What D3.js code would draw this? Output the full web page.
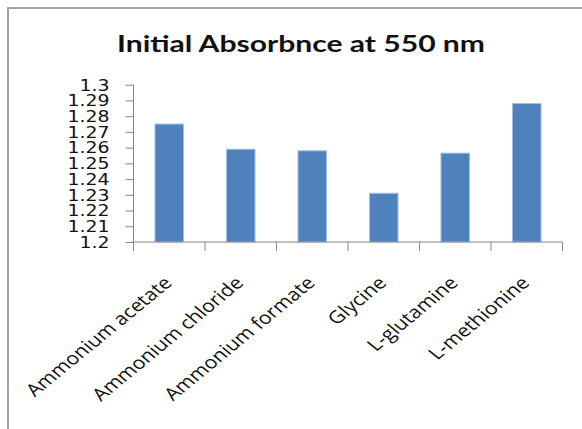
<!DOCTYPE html>
<html>
<head>
<meta charset="utf-8">
<script src="https://cdn.jsdelivr.net/npm/d3@7"></script>
<style>
  html, body { margin: 0; padding: 0; background: #fff; }
  svg { display: block; }
</style>
</head>
<body>
<svg id="chart" width="582" height="429"></svg>
<script>
// Initial absorbance at 550 nm for each additive
const categories = ["Ammonium acetate", "Ammonium chloride", "Ammonium formate", "Glycine", "L-glutamine", "L-methionine"];
const absorbance = [1.275, 1.259, 1.258, 1.231, 1.2565, 1.288];
const yTickValues = [1.2, 1.21, 1.22, 1.23, 1.24, 1.25, 1.26, 1.27, 1.28, 1.29, 1.3];
const yTickLabels = ["1.2", "1.21", "1.22", "1.23", "1.24", "1.25", "1.26", "1.27", "1.28", "1.29", "1.3"];
const titleText = "Initial Absorbnce  at 550 nm";

// Text in this chart is drawn slightly wide
const SX = 1.22;

const svg = d3.select("#chart");

// chart area frame
svg.append("rect")
  .attr("x", 8).attr("y", 8)
  .attr("width", 600).attr("height", 440)
  .attr("fill", "#fff")
  .attr("stroke", "#a3a3a3")
  .attr("stroke-width", 2);

const plot = { left: 133.5, right: 562.5, top: 84.7, bottom: 242 };

const x = d3.scaleBand()
  .domain(categories)
  .range([plot.left, plot.right])
  .paddingInner(0.6)
  .paddingOuter(0.3);

const y = d3.scaleLinear()
  .domain([1.2, 1.3])
  .range([plot.bottom, plot.top]);

// title
svg.append("text")
  .attr("x", 117).attr("y", 51.7)
  .attr("font-family", "Lato, 'Open Sans', sans-serif")
  .attr("font-weight", "bold")
  .attr("font-size", 23)
  .attr("fill", "#111")
  .attr("textLength", 368)
  .attr("lengthAdjust", "spacingAndGlyphs")
  .text(titleText);

// bars
svg.append("g")
  .selectAll("rect")
  .data(categories.map((c, i) => ({ c, v: absorbance[i] })))
  .join("rect")
  .attr("x", d => x(d.c))
  .attr("y", d => y(d.v))
  .attr("width", x.bandwidth())
  .attr("height", d => y(1.2) - y(d.v))
  .attr("fill", "#4f81bd")
  .attr("stroke", "#a9c1e3")
  .attr("stroke-width", 1);

const axisColor = "#868686";

// value axis
const yAxis = d3.axisLeft(y)
  .tickValues(yTickValues)
  .tickFormat((d, i) => yTickLabels[i])
  .tickSizeInner(8)
  .tickSizeOuter(0);

const gy = svg.append("g")
  .attr("transform", `translate(${plot.left},0)`)
  .call(yAxis);
gy.select(".domain").remove();
gy.selectAll(".tick line").attr("stroke", axisColor);
gy.selectAll(".tick text")
  .attr("x", null).attr("dy", null)
  .attr("dominant-baseline", "central")
  .attr("text-anchor", "end")
  .attr("font-family", "'DejaVu Sans', sans-serif")
  .attr("font-size", 15.5)
  .attr("fill", "#111")
  .attr("transform", `translate(-24,0) scale(${SX},1)`);

// vertical axis line extends slightly below the baseline
svg.append("line")
  .attr("x1", plot.left).attr("x2", plot.left)
  .attr("y1", plot.top).attr("y2", plot.bottom + 8)
  .attr("stroke", axisColor);

// category axis
svg.append("line")
  .attr("x1", plot.left).attr("x2", plot.right)
  .attr("y1", plot.bottom).attr("y2", plot.bottom)
  .attr("stroke", axisColor);

const boundaries = d3.range(categories.length + 1).map(i => plot.left + i * x.step());
svg.append("g")
  .selectAll("line")
  .data(boundaries)
  .join("line")
  .attr("x1", d => d).attr("x2", d => d)
  .attr("y1", plot.bottom).attr("y2", plot.bottom + 9)
  .attr("stroke", axisColor);

// rotated category labels
svg.append("g")
  .selectAll("text")
  .data(categories)
  .join("text")
  .attr("text-anchor", "end")
  .attr("font-family", "'Open Sans', sans-serif")
  .attr("font-size", 17.5)
  .attr("fill", "#111")
  .attr("transform", d => `translate(${x(d) + x.bandwidth() / 2 + 4},284) scale(${SX},1) rotate(-45)`)
  .text(d => d);
</script>
</body>
</html>
